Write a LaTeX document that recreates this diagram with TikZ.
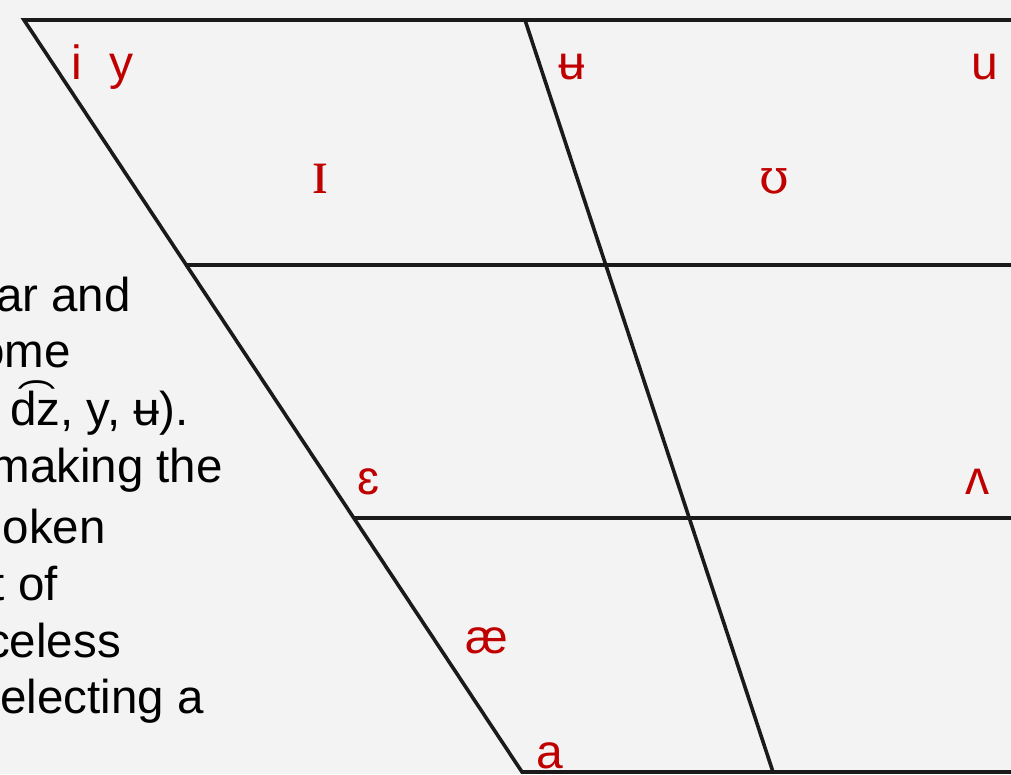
\documentclass[tikz,border=0pt]{standalone}
\usepackage{fontspec}
\setmainfont{Liberation Sans}
\newfontfamily\ipaserif{Liberation Serif}
\newfontfamily\ipahorse{DejaVu Serif}
\definecolor{chartbg}{HTML}{F3F3F3}
\definecolor{vowelred}{HTML}{C00000}
\definecolor{chartline}{HTML}{1A1A1A}
\tikzset{
  vowel/.style={text=vowelred,inner sep=0pt,anchor=base,font=\fontsize{48}{48}\selectfont},
  serifvowel/.style={vowel,font=\ipaserif\fontsize{64}{64}\selectfont},
  horsevowel/.style={vowel,font=\ipahorse\fontsize{48}{48}\selectfont},
  prose/.style={inner sep=0pt,anchor=base east,font=\fontsize{47.5}{57}\selectfont},
  chart/.style={draw=chartline,line width=3.6pt},
}
\begin{document}
\begin{tikzpicture}[x=1pt,y=-1pt]
  \fill[chartbg] (0,0) rectangle (1011,774);
  \useasboundingbox (0,0) rectangle (1011,774);
  \clip (0,0) rectangle (1011,774);

  \node[prose] (line1) at (131,311) {ar and};
  \node[prose] (line2) at (71,367) {ome};
  \node[prose] (line3) at (189,425) {d͡z, y, ʉ).};
  \node[prose] (line4) at (223,482) {making the};
  \node[prose] (line5) at (106,543) {oken};
  \node[prose] (line6) at (58,600) {t of};
  \node[prose] (line7) at (121,657) {celess};
  \node[prose] (line8) at (204,713) {electing a};

  \draw[chart] (1040,20) -- (24,20) -- (522,772) -- (1040,772);
  \draw[chart] (525,20) -- (773,772);
  \draw[chart] (187,265) -- (1040,265);
  \draw[chart] (354,518) -- (1040,518);

  \node[vowel] (ifront) at (77,79) {i};
  \node[vowel] (yfront) at (121.5,79) {y};
  \node[vowel] (ubar) at (572,79) {ʉ};
  \node[vowel] (uback) at (985,79) {u};
  \node[serifvowel] (smallcapi) at (320,193) {ɪ};
  \node[horsevowel] (upsilon) at (774.5,193) {ʊ};
  \node[vowel] (epsilon) at (368,494) {ɛ};
  \node[vowel] (wedge) at (977,494) {ʌ};
  \node[vowel] (ash) at (486.5,653) {æ};
  \node[vowel] (aopen) at (550,768) {a};
\end{tikzpicture}
\end{document}
